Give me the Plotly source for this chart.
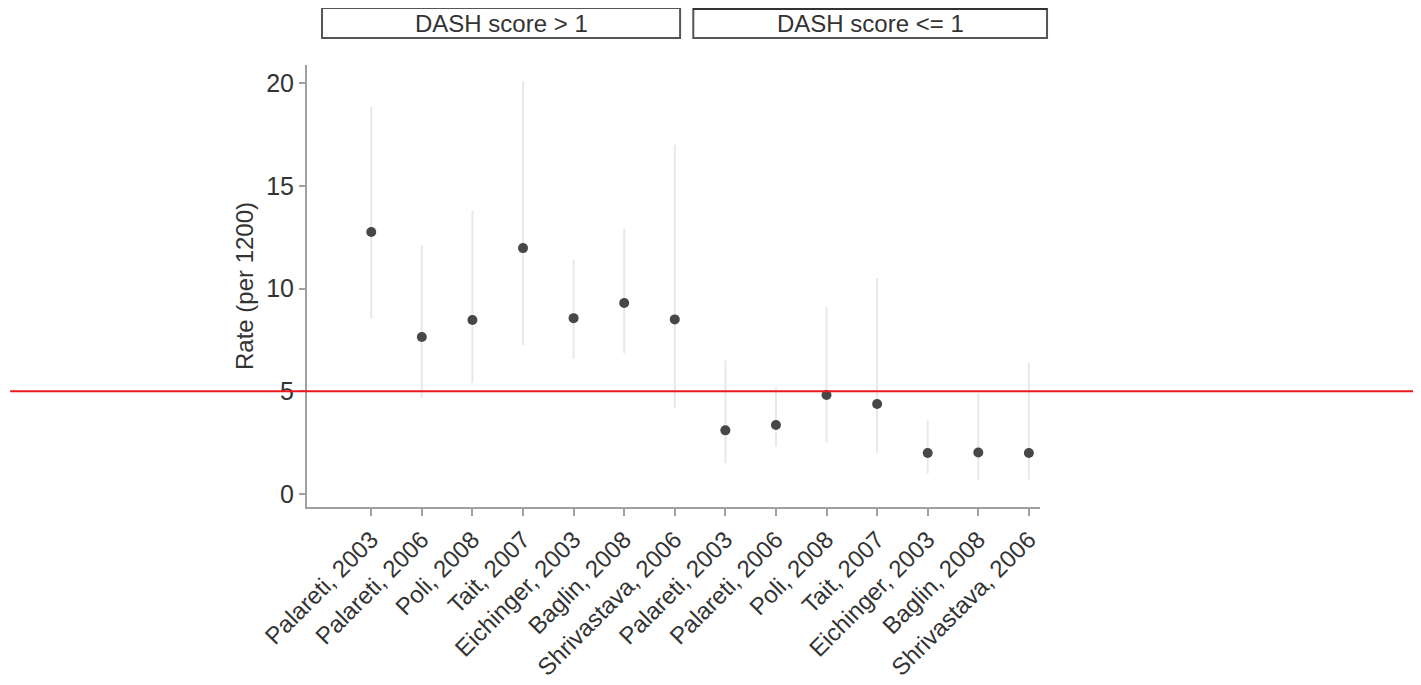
import plotly.graph_objects as go

studies = ["Palareti, 2003", "Palareti, 2006", "Poli, 2008", "Tait, 2007",
           "Eichinger, 2003", "Baglin, 2008", "Shrivastava, 2006",
           "Palareti, 2003", "Palareti, 2006", "Poli, 2008", "Tait, 2007",
           "Eichinger, 2003", "Baglin, 2008", "Shrivastava, 2006"]
rate = [12.75, 7.64, 8.47, 11.97, 8.56, 9.3, 8.5,
        3.1, 3.36, 4.82, 4.38, 2.0, 2.02, 2.0]
ci_low = [8.55, 4.67, 5.4, 7.25, 6.6, 6.85, 4.2,
          1.5, 2.3, 2.5, 2.0, 1.0, 0.7, 0.7]
ci_high = [18.85, 12.1, 13.8, 20.1, 11.4, 12.9, 17.0,
           6.5, 5.2, 9.1, 10.5, 3.6, 4.9, 6.4]
panels = ["DASH score > 1", "DASH score <= 1"]
ref_value = 5
y_ticks = [0, 5, 10, 15, 20]

x = list(range(len(studies)))
fig = go.Figure()
fig.add_trace(go.Scatter(
    x=x, y=rate, mode="markers",
    marker=dict(color="#474747", size=10),
    error_y=dict(type="data", symmetric=False,
                 array=[h - r for h, r in zip(ci_high, rate)],
                 arrayminus=[r - l for r, l in zip(rate, ci_low)],
                 color="#e8e8e8", thickness=2, width=0),
    showlegend=False,
))

font = "Liberation Sans, Arial, sans-serif"
fig.update_layout(
    width=1413, height=677,
    margin=dict(l=299, r=381, t=57, b=178, autoexpand=False),
    plot_bgcolor="white", paper_bgcolor="white",
    font=dict(family=font, color="#333333"),
    xaxis=dict(range=[-1.27, 13.22], tickvals=x, ticktext=studies,
               tickangle=-45, tickfont=dict(size=24, color="#333333"),
               automargin=False,
               showgrid=False, zeroline=False, showline=True,
               linecolor="#a0a0a0", linewidth=2,
               ticks="outside", ticklen=7, tickcolor="#a0a0a0", tickwidth=1.5),
    yaxis=dict(range=[-0.63, 20.88], tickvals=y_ticks,
               tickfont=dict(size=25, color="#333333"),
               automargin=False,
               title=dict(text="Rate (per 1200)", font=dict(size=24, color="#333333"), standoff=6),
               showgrid=False, zeroline=False, showline=True,
               linecolor="#a0a0a0", linewidth=2,
               ticks="outside", ticklen=6, tickcolor="#a0a0a0", tickwidth=1.5),
)

# facet strips
strips = [(0.0205, 0.509), (0.527, 1.0096)]
for (x0, x1), label in zip(strips, panels):
    fig.add_shape(type="rect", xref="paper", yref="paper",
                  x0=x0, x1=x1, y0=1.061, y1=1.129,
                  line=dict(color="#555555", width=2), fillcolor="white")
    fig.add_annotation(xref="paper", yref="paper", x=(x0 + x1) / 2, y=1.095,
                       xanchor="center", yanchor="middle",
                       text=label, showarrow=False,
                       font=dict(size=24, color="#333333", family=font))
# heavier top edge on the second strip
fig.add_shape(type="line", xref="paper", yref="paper",
              x0=strips[1][0], x1=strips[1][1], y0=1.128, y1=1.128,
              line=dict(color="#333333", width=3))

# red reference line
fig.add_shape(type="line", xref="paper", yref="y",
              x0=-0.405, x1=1.52, y0=ref_value, y1=ref_value,
              line=dict(color="#e8181c", width=2))

fig.write_html("out.html")
